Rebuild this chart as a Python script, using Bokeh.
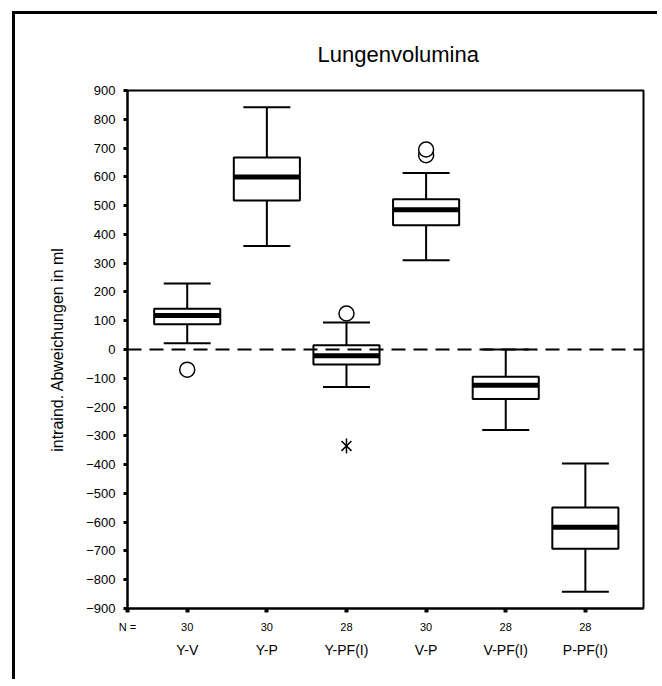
from bokeh.plotting import figure
from bokeh.models import FixedTicker, LinearAxis, Range1d, Span, ColumnDataSource
from bokeh.embed import file_html
from bokeh.resources import INLINE

# ---- data ----
categories = ["Y-V", "Y-P", "Y-PF(I)", "V-P", "V-PF(I)", "P-PF(I)"]
counts = [30, 30, 28, 30, 28, 28]
positions = [1, 2, 3, 4, 5, 6]
whisker_low = [22, 360, -130, 310, -280, -842]
q1 = [88, 518, -52, 432, -172, -692]
median = [118, 599, -22, 486, -124, -618]
q3 = [142, 667, 15, 522, -95, -549]
whisker_high = [229, 842, 94, 613, 0, -396]
outlier_x = [1, 3, 4, 4]
outlier_y = [-70, 125, 675, 695]
extreme_x = [3]
extreme_y = [-335]
y_ticks = list(range(-900, 1000, 100))

FONT = "Liberation Sans"
BOX_W = 0.83
CAP_W = 0.59

src = ColumnDataSource(dict(
    x=positions, lo=whisker_low, q1=q1, med=median, q3=q3, hi=whisker_high,
    left=[p - BOX_W / 2 for p in positions], right=[p + BOX_W / 2 for p in positions],
    cl=[p - CAP_W / 2 for p in positions], cr=[p + CAP_W / 2 for p in positions],
))

p = figure(width=645, height=668, output_backend="svg", toolbar_location=None,
           x_range=Range1d(0.25, 6.73), y_range=Range1d(-900, 900),
           min_border_left=112, min_border_right=17, min_border_top=76, min_border_bottom=74,
           background_fill_color="white", border_fill_color="white",
           title="Lungenvolumina")
p.margin = (11, 0, 0, 12)
p.styles = {"border-left": "3px solid black", "border-top": "3px solid black"}
p.xgrid.visible = False
p.ygrid.visible = False
p.outline_line_color = "black"
p.outline_line_width = 2
p.outline_line_alpha = 1

p.title.align = "left"
p.title.text_font = FONT
p.title.text_font_size = "22px"
p.title.text_font_style = "normal"
p.title.text_color = "black"
p.title.standoff = 48
p.title.offset = 190

# whiskers
p.segment(x0="x", y0="q3", x1="x", y1="hi", source=src, line_color="black", line_width=2)
p.segment(x0="x", y0="lo", x1="x", y1="q1", source=src, line_color="black", line_width=2)
p.segment(x0="cl", y0="hi", x1="cr", y1="hi", source=src, line_color="black", line_width=2)
p.segment(x0="cl", y0="lo", x1="cr", y1="lo", source=src, line_color="black", line_width=2)
# boxes
p.quad(left="left", right="right", bottom="q1", top="q3", source=src,
       fill_color="white", line_color="black", line_width=2)
p.segment(x0="left", y0="med", x1="right", y1="med", source=src, line_color="black", line_width=5)
# outliers
p.scatter(outlier_x, outlier_y, marker="circle", size=15, fill_color="white",
          line_color="black", line_width=1.5)
p.scatter(extreme_x, extreme_y, marker="x", size=14, line_color="black", line_width=1.5)
p.scatter(extreme_x, extreme_y, marker="dash", angle=1.5708, size=15, line_color="black", line_width=1.5)

# zero reference line
p.add_layout(Span(location=0, dimension="width", line_color="black", line_width=2, line_dash="14 8"))

# y axis
ya = p.yaxis[0]
ya.ticker = FixedTicker(ticks=y_ticks)
ya.axis_line_width = 2
ya.major_tick_line_width = 3
ya.major_tick_out = 4
ya.major_tick_in = 0
ya.minor_tick_line_color = None
ya.major_label_text_font = FONT
ya.major_label_text_font_size = "13px"
ya.major_label_text_color = "black"
ya.major_label_standoff = 8
ya.axis_label = "intraind. Abweichungen in ml"
ya.axis_label_text_font = FONT
ya.axis_label_text_font_size = "16px"
ya.axis_label_text_font_style = "normal"
ya.axis_label_text_color = "black"
ya.axis_label_standoff = 17

# x axis: counts
xa = p.xaxis[0]
xa.ticker = FixedTicker(ticks=[0.25] + positions)
overrides = {0.25: "N ="}
for pos, n in zip(positions, counts):
    overrides[pos] = str(n)
xa.major_label_overrides = overrides
xa.axis_line_width = 2
xa.major_tick_line_width = 4
xa.major_tick_out = 4
xa.major_tick_in = 0
xa.minor_tick_line_color = None
xa.major_label_text_font = FONT
xa.major_label_text_font_size = "11px"
xa.major_label_text_color = "black"
xa.major_label_standoff = 8

# x axis: category names
xa2 = LinearAxis(ticker=FixedTicker(ticks=positions),
                 major_label_overrides={pos: c for pos, c in zip(positions, categories)},
                 axis_line_color=None, major_tick_line_color=None, minor_tick_line_color=None,
                 major_tick_out=0, major_tick_in=0,
                 major_label_text_font=FONT, major_label_text_font_size="14px",
                 major_label_text_color="black",
                 major_label_standoff=6)
p.add_layout(xa2, "below")

open("out.html", "w").write(file_html(p, INLINE))
